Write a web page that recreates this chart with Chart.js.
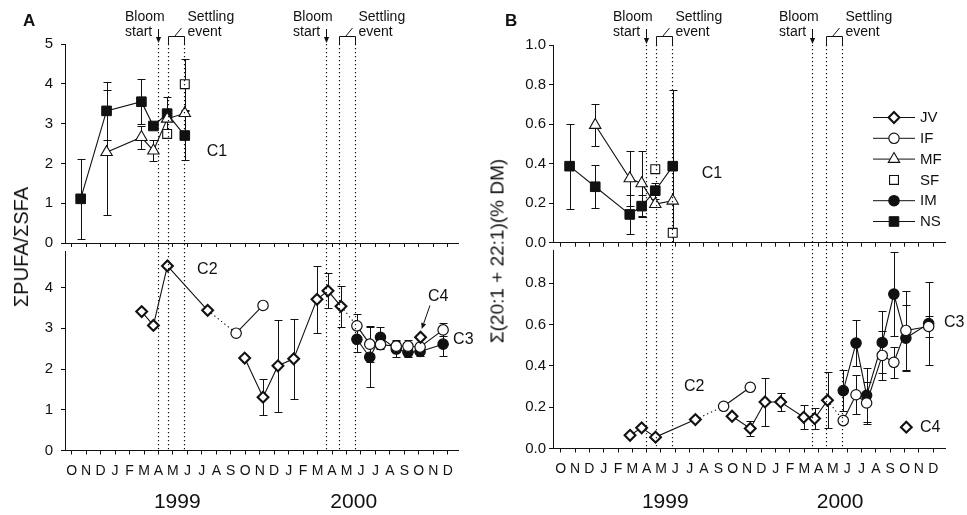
<!DOCTYPE html>
<html><head><meta charset="utf-8">
<script src="https://cdn.jsdelivr.net/npm/chart.js@4.4.1/dist/chart.umd.min.js"></script>
<style>
html,body{margin:0;padding:0;background:#fff;}
#wrap{position:relative;width:967px;height:515px;overflow:hidden;font-family:'Liberation Sans',Arial,Helvetica,sans-serif;color:#111;}
canvas{position:absolute;}
.ytitle{position:absolute;white-space:nowrap;line-height:1;transform:translate(-50%,-50%) rotate(-90deg);}
</style></head><body>
<div id="wrap">
<canvas id="aTop" width="480" height="250" style="left:0;top:0"></canvas>
<canvas id="aBot" width="480" height="515" style="left:0;top:0"></canvas>
<canvas id="bTop" width="487" height="250" style="left:480px;top:0"></canvas>
<canvas id="bBot" width="487" height="515" style="left:480px;top:0"></canvas>
<div class="ytitle" style="left:21px;top:247px;font-size:20px">ΣPUFA/ΣSFA</div>
<div class="ytitle" style="left:497px;top:251px;font-size:19px">Σ(20:1 + 22:1)(% DM)</div>
</div>
<script>
// ---------------- DATA ----------------
// x = month index, 0 = October 1998 ... 26 = December 2000
const months = ['O','N','D','J','F','M','A','M','J','J','A','S','O','N','D','J','F','M','A','M','J','J','A','S','O','N','D'];
const yearLabels = ['1999', '2000'];
const yearAt = [7.3, 19.5];
const bloomDates = [5.95, 17.55];
const settlingDates = [[6.65, 7.75], [18.5, 19.6]];

const c1Dates = [0.62, 2.41, 4.82, 5.65, 6.6, 7.82];
const jvDates = [4.84, 5.65, 6.62, 9.4, null, 11.96, 13.23, 14.26, 15.35, 16.96, 17.72, 18.62];
const ifDates = [11.37, 13.23, null, 19.72, 20.61, 21.35, 22.44, 23.25, 24.09, 25.68];
const imDates = [19.72, 20.61, 21.35, 22.44, 23.25, 24.09, 25.68];
const c4Dates = [24.12];

// Panel A: sum PUFA / sum SFA
const A_NS = [1.11, 3.32, 3.55, 2.94, 3.25, 2.70];
const A_NS_err = [1.0, 0.72, 0.57, 0, 0.43, 0.61];
const A_MF = [null, 2.28, 2.66, 2.32, 3.12, 3.26];
const A_MF_err = [0, 1.57, 0.29, 0.27, 0, 0];
const A_SF = [null, null, null, null, 2.74, 3.99];
const A_SF_err = [0, 0, 0, 0, 0, 0.64];
const A_JV = [3.41, 3.07, 4.53, 3.44, null, 2.27, 1.31, 2.08, 2.25, 3.71, 3.92, 3.54];
const A_JV_err = [0, 0, 0, 0, 0, 0, 0.45, 1.13, 0.98, 0.83, 0.43, 0.5];
const A_IF = [2.88, 3.56, null, 3.06, 2.61, 2.60, 2.56, 2.56, 2.54, 2.96];
const A_IF_err = [0, 0, 0, 0.3, 0.44, 0.1, 0.15, 0.15, 0.1, 0.16];
const A_IM = [2.73, 2.29, 2.78, 2.49, 2.41, 2.43, 2.61];
const A_IM_err = [0.3, 0.74, 0.25, 0.2, 0.12, 0.1, 0.29];
const A_C4 = [2.78];

// Panel B: sum(20:1 + 22:1) (% DM)
const B_NS = [0.387, 0.283, 0.143, 0.185, 0.263, 0.387];
const B_NS_err = [0.215, 0.11, 0.10, 0.055, 0.04, 0.385];
const B_MF = [null, 0.595, 0.325, 0.30, 0.195, 0.212];
const B_MF_err = [0, 0.105, 0.14, 0.165, 0, 0];
const B_SF = [null, null, null, null, 0.372, 0.05];
const B_SF_err = [0, 0, 0, 0, 0, 0];
const B_JV = [0.064, 0.10, 0.055, 0.14, null, 0.156, 0.097, 0.225, 0.225, 0.151, 0.145, 0.233];
const B_JV_err = [0, 0, 0, 0, 0, 0, 0.036, 0.117, 0.044, 0.059, 0.05, 0.136];
const B_IF = [0.204, 0.296, null, 0.135, 0.26, 0.22, 0.45, 0.417, 0.571, 0.59];
const B_IF_err = [0, 0, 0, 0, 0.095, 0.1, 0.12, 0.075, 0.19, 0.05];
const B_IM = [0.28, 0.51, 0.257, 0.513, 0.747, 0.534, 0.604];
const B_IM_err = [0.1, 0.11, 0.13, 0.15, 0.205, 0.16, 0.2];
const B_C4 = [0.103];

const legendNames = ['JV', 'IF', 'MF', 'SF', 'IM', 'NS'];

// ---------------- STYLE ----------------
const BLACK = '#111';
const FONT = "'Liberation Sans', Arial, Helvetica, sans-serif";
Chart.defaults.font.family = FONT;
Chart.defaults.font.size = 15;
Chart.defaults.color = BLACK;

const styles = {
  JV: {ps: 'rectRot', r: 5.4, bw: 2.1, bg: '#fff', line: true},
  IF: {ps: 'circle', r: 5.2, bw: 1.2, bg: '#fff', line: true},
  MF: {ps: 'triangle', r: 6.6, bw: 1.1, bg: '#fff', line: true},
  SF: {ps: 'rect', r: 6.3, bw: 1.1, bg: '#fff', line: false},
  IM: {ps: 'circle', r: 5.2, bw: 1.2, bg: BLACK, line: true},
  NS: {ps: 'rect', r: 6.8, bw: 1, bg: BLACK, line: true}
};

function series(name, dates, vals, errs, forceNoLine) {
  const st = styles[name];
  return {
    label: name,
    data: dates.map((d, i) => ({x: d, y: vals[i]})),
    errors: errs || null,
    showLine: st.line && !forceNoLine,
    borderColor: BLACK, borderWidth: 1.1, backgroundColor: st.bg,
    pointStyle: st.ps, pointRadius: st.r, pointBorderWidth: st.bw,
    pointBackgroundColor: st.bg, pointBorderColor: BLACK,
    tension: 0, spanGaps: false, clip: false
  };
}
function connector(p1, p2) {
  return {
    label: 'link', data: [p1, p2], showLine: true, borderColor: BLACK, borderWidth: 1.1,
    borderDash: [1.3, 3], pointRadius: 0, clip: false, tension: 0
  };
}

function xAxis(min, max, showLabels, height) {
  return {
    type: 'linear', min, max,
    border: {display: true, color: BLACK, width: 1},
    grid: {display: true, drawOnChartArea: false, drawTicks: true, tickLength: 4, color: BLACK, lineWidth: 1},
    ticks: {stepSize: 1, autoSkip: false, maxRotation: 0, minRotation: 0, includeBounds: false,
      padding: 8, font: {size: 14}, color: BLACK,
      callback: v => showLabels ? (months[v] || '') : ''},
    afterFit(s) { s.height = height; s.paddingLeft = 0; s.paddingRight = 0; }
  };
}
function yAxis(min, max, step, width, pad, fmt) {
  return {
    type: 'linear', position: 'left', min, max,
    border: {display: true, color: BLACK, width: 1},
    grid: {display: true, drawOnChartArea: false, drawTicks: true, tickLength: 4, color: BLACK, lineWidth: 1},
    ticks: {stepSize: step, includeBounds: false, padding: pad, color: BLACK, font: {size: 15}, callback: fmt},
    afterFit(s) { s.width = width; s.paddingTop = 0; s.paddingBottom = 0; }
  };
}

// error bars drawn through the chart scales
const errorBars = {
  id: 'errorBars',
  beforeDatasetsDraw(chart) {
    const ctx = chart.ctx, xs = chart.scales.x, ys = chart.scales.y;
    ctx.save();
    ctx.strokeStyle = BLACK; ctx.lineWidth = 1;
    chart.data.datasets.forEach(ds => {
      if (!ds.errors) return;
      ds.data.forEach((p, i) => {
        const e = ds.errors[i];
        if (!p || p.y == null || p.x == null || !e) return;
        const x = Math.round(xs.getPixelForValue(p.x)) + 0.5;
        const y1 = Math.round(ys.getPixelForValue(p.y + e)) + 0.5;
        const y2 = Math.round(ys.getPixelForValue(p.y - e)) + 0.5;
        ctx.beginPath();
        ctx.moveTo(x, y1); ctx.lineTo(x, y2);
        ctx.moveTo(x - 4, y1); ctx.lineTo(x + 4, y1);
        ctx.moveTo(x - 4, y2); ctx.lineTo(x + 4, y2);
        ctx.stroke();
      });
    });
    ctx.restore();
  }
};

function drawMarker(ctx, name, x, y) {
  const st = styles[name];
  ctx.save();
  ctx.fillStyle = st.bg; ctx.strokeStyle = BLACK; ctx.lineWidth = st.bw;
  if (Chart.helpers && Chart.helpers.drawPoint) {
    Chart.helpers.drawPoint(ctx, {pointStyle: st.ps, radius: st.r, rotation: 0, borderWidth: st.bw}, x, y);
  } else {
    ctx.beginPath();
    ctx.arc(x, y, st.r, 0, Math.PI * 2); ctx.fill(); ctx.stroke();
  }
  ctx.restore();
}

function arrowLine(ctx, x1, y1, x2, y2) {
  const a = Math.atan2(y2 - y1, x2 - x1), L = 6, W = 2.6;
  const bx = x2 - L * Math.cos(a), by = y2 - L * Math.sin(a);
  ctx.beginPath(); ctx.moveTo(x1, y1); ctx.lineTo(bx, by); ctx.stroke();
  ctx.beginPath();
  ctx.moveTo(x2, y2);
  ctx.lineTo(bx + W * Math.sin(a), by - W * Math.cos(a));
  ctx.lineTo(bx - W * Math.sin(a), by + W * Math.cos(a));
  ctx.closePath(); ctx.fill();
}

function textPlugin(id, labels, extra) {
  return {
    id,
    afterDraw(chart) {
      const ctx = chart.ctx, xs = chart.scales.x, ys = chart.scales.y;
      ctx.save();
      ctx.fillStyle = BLACK; ctx.strokeStyle = BLACK;
      ctx.font = '16px ' + FONT; ctx.textAlign = 'left'; ctx.textBaseline = 'alphabetic';
      labels.forEach(l => ctx.fillText(l.t, xs.getPixelForValue(l.x), ys.getPixelForValue(l.y)));
      if (extra) extra(chart, ctx, xs, ys);
      ctx.restore();
    }
  };
}

// events (bloom / settling) + years, drawn on the lower (full-height) canvas
function eventsPlugin(getTop) {
  return {
    id: 'events',
    afterDraw(chart) {
      const ctx = chart.ctx, xs = chart.scales.x;
      const topY = getTop(), bottom = chart.chartArea.bottom;
      const px = d => Math.round(xs.getPixelForValue(d)) + 0.5;
      ctx.save();
      ctx.strokeStyle = BLACK; ctx.fillStyle = BLACK;
      ctx.lineWidth = 1.2; ctx.setLineDash([1.3, 2.7]);
      [...bloomDates, ...settlingDates.flat()].forEach(d => {
        const x = px(d);
        ctx.beginPath(); ctx.moveTo(x, topY); ctx.lineTo(x, bottom); ctx.stroke();
      });
      ctx.setLineDash([]); ctx.lineWidth = 1;
      ctx.font = '14px ' + FONT; ctx.textAlign = 'left'; ctx.textBaseline = 'alphabetic';
      bloomDates.forEach(d => {
        const x = px(d);
        arrowLine(ctx, x, 29, x, topY - 1);
        ctx.fillText('Bloom', x - 33.5, 21);
        ctx.fillText('start', x - 33.5, 36);
      });
      settlingDates.forEach(([a, b]) => {
        const xa = px(a), xb = px(b), yb = 36.5;
        ctx.beginPath();
        ctx.moveTo(xa, topY); ctx.lineTo(xa, yb); ctx.lineTo(xb, yb); ctx.lineTo(xb, topY);
        ctx.moveTo(xa + 6, yb); ctx.lineTo(xa + 13, 28);
        ctx.stroke();
        ctx.fillText('Settling', xb + 3, 21);
        ctx.fillText('event', xb + 3, 36);
      });
      ctx.font = '21px ' + FONT; ctx.textAlign = 'center';
      yearLabels.forEach((t, i) => ctx.fillText(t, xs.getPixelForValue(yearAt[i]), 508));
      ctx.restore();
    }
  };
}

function makeChart(id, datasets, x, y, padding, plugins) {
  return new Chart(document.getElementById(id), {
    type: 'line',
    data: {datasets},
    options: {
      responsive: false, animation: false, devicePixelRatio: 1, events: [],
      layout: {padding, autoPadding: false},
      plugins: {legend: {display: false}, tooltip: {enabled: false}, title: {display: false}},
      scales: {x, y}
    },
    plugins: [errorBars, ...plugins]
  });
}

// ---------------- PANEL A ----------------
const AX = [-0.463, 26.71];
const aTop = makeChart('aTop', [
  series('SF', c1Dates, A_SF, A_SF_err),
  series('MF', c1Dates, A_MF, A_MF_err),
  series('NS', c1Dates, A_NS, A_NS_err)
], xAxis(AX[0], AX[1], false, 7), yAxis(0, 5, 1, 65, 8, v => String(v)),
  {left: 0, top: 44, right: 22, bottom: 0},
  [textPlugin('aTopText', [{t: 'C1', x: 9.34, y: 2.19}], (chart, ctx) => {
    ctx.font = 'bold 17px ' + FONT; ctx.fillText('A', 23, 26);
  })]);

const aBot = makeChart('aBot', [
  series('JV', c4Dates, A_C4, null, true),
  series('JV', jvDates, A_JV, A_JV_err),
  series('IF', ifDates, A_IF, A_IF_err),
  series('IM', imDates, A_IM, A_IM_err),
  connector({x: jvDates[3], y: A_JV[3]}, {x: ifDates[0], y: A_IF[0]}),
  connector({x: jvDates[11], y: A_JV[11]}, {x: ifDates[3], y: A_IF[3]})
], xAxis(AX[0], AX[1], true, 64.5), yAxis(0, 4.88, 1, 65, 8, v => String(v)),
  {left: 0, top: 251.7, right: 22, bottom: 0},
  [eventsPlugin(() => aTop.chartArea.top),
   textPlugin('aBotText', [
     {t: 'C2', x: 8.67, y: 4.34}, {t: 'C4', x: 24.64, y: 3.66}, {t: 'C3', x: 26.37, y: 2.61}
   ], (chart, ctx, xs, ys) => {
     ctx.lineWidth = 1;
     arrowLine(ctx, xs.getPixelForValue(24.77), ys.getPixelForValue(3.56),
               xs.getPixelForValue(24.2), ys.getPixelForValue(2.98));
   })]);

// ---------------- PANEL B ----------------
const BX = [-0.537, 26.82];
const bTop = makeChart('bTop', [
  series('SF', c1Dates, B_SF, B_SF_err),
  series('MF', c1Dates, B_MF, B_MF_err),
  series('NS', c1Dates, B_NS, B_NS_err)
], xAxis(BX[0], BX[1], false, 7.3), yAxis(0, 1, 0.2, 73, 3, v => v.toFixed(1)),
  {left: 0, top: 45, right: 22, bottom: 0},
  [textPlugin('bTopText', [{t: 'C1', x: 9.84, y: 0.326}], (chart, ctx) => {
    ctx.font = 'bold 17px ' + FONT; ctx.fillText('B', 25, 26);
    // legend
    ctx.font = '15px ' + FONT; ctx.textBaseline = 'middle';
    legendNames.forEach((n, i) => {
      const y = 117 + i * 20.8;
      if (styles[n].line) {
        ctx.lineWidth = 1; ctx.beginPath(); ctx.moveTo(393, y + 0.5); ctx.lineTo(435, y + 0.5); ctx.stroke();
      }
      drawMarker(ctx, n, 414, y + 0.5);
      ctx.fillStyle = BLACK;
      ctx.fillText(n, 440, y + 1);
    });
  })]);

const bBot = makeChart('bBot', [
  series('JV', c4Dates, B_C4, null, true),
  series('JV', jvDates, B_JV, B_JV_err),
  series('IF', ifDates, B_IF, B_IF_err),
  series('IM', imDates, B_IM, B_IM_err),
  connector({x: jvDates[3], y: B_JV[3]}, {x: ifDates[0], y: B_IF[0]}),
  connector({x: jvDates[11], y: B_JV[11]}, {x: ifDates[3], y: B_IF[3]})
], xAxis(BX[0], BX[1], true, 66.5), yAxis(0, 0.96, 0.2, 73, 3, v => v.toFixed(1)),
  {left: 0, top: 250, right: 22, bottom: 0},
  [eventsPlugin(() => bTop.chartArea.top),
   textPlugin('bBotText', [
     {t: 'C2', x: 8.6, y: 0.278}, {t: 'C3', x: 26.75, y: 0.59}, {t: 'C4', x: 25.07, y: 0.081}
   ])]);
</script>
</body></html>
